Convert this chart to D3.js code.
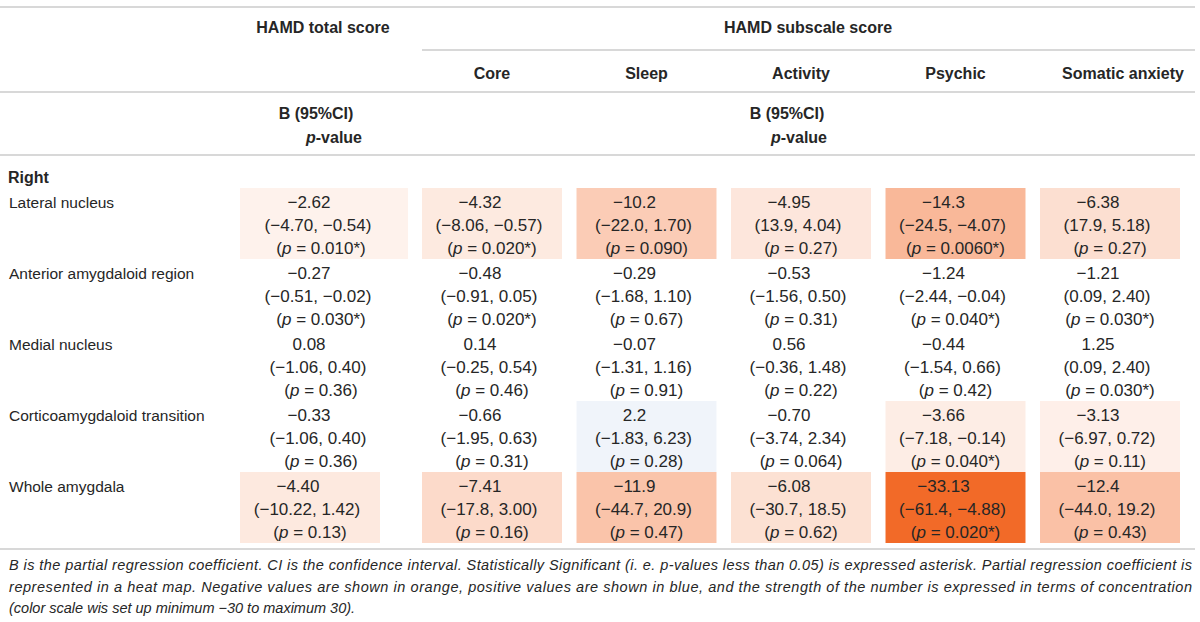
<!DOCTYPE html>
<html>
<head>
<meta charset="utf-8">
<script src="https://cdn.jsdelivr.net/npm/d3@7"></script>
<style>
  html, body { margin: 0; padding: 0; background: #fff; }
  svg { display: block; }
  text { font-family: "Liberation Sans", Arial, Helvetica, sans-serif; fill: #262626; }
</style>
</head>
<body>
<svg id="chart" width="1200" height="622"></svg>
<script>
// ---------- DATA ----------
const regions = ["Lateral nucleus", "Anterior amygdaloid region", "Medial nucleus",
                 "Corticoamygdaloid transition", "Whole amygdala"];
const totalColumn = "HAMD total score";
const subscaleColumns = ["Core", "Sleep", "Activity", "Psychic", "Somatic anxiety"];
const columns = [totalColumn].concat(subscaleColumns);

// partial regression coefficient B (rows = regions, cols = columns)
const bValues = [
  ["−2.62", "−4.32", "−10.2", "−4.95", "−14.3", "−6.38"],
  ["−0.27", "−0.48", "−0.29", "−0.53", "−1.24", "−1.21"],
  ["0.08", "0.14", "−0.07", "0.56", "−0.44", "1.25"],
  ["−0.33", "−0.66", "2.2", "−0.70", "−3.66", "−3.13"],
  ["−4.40", "−7.41", "−11.9", "−6.08", "−33.13", "−12.4"]
];
// 95% CI lower bound
const ciLower = [
  ["−4.70", "−8.06", "−22.0", "13.9", "−24.5", "17.9"],
  ["−0.51", "−0.91", "−1.68", "−1.56", "−2.44", "0.09"],
  ["−1.06", "−0.25", "−1.31", "−0.36", "−1.54", "0.09"],
  ["−1.06", "−1.95", "−1.83", "−3.74", "−7.18", "−6.97"],
  ["−10.22", "−17.8", "−44.7", "−30.7", "−61.4", "−44.0"]
];
// 95% CI upper bound
const ciUpper = [
  ["−0.54", "−0.57", "1.70", "4.04", "−4.07", "5.18"],
  ["−0.02", "0.05", "1.10", "0.50", "−0.04", "2.40"],
  ["0.40", "0.54", "1.16", "1.48", "0.66", "2.40"],
  ["0.40", "0.63", "6.23", "2.34", "−0.14", "0.72"],
  ["1.42", "3.00", "20.9", "18.5", "−4.88", "19.2"]
];
// p-values (* = significant)
const pValues = [
  ["0.010*", "0.020*", "0.090", "0.27", "0.0060*", "0.27"],
  ["0.030*", "0.020*", "0.67", "0.31", "0.040*", "0.030*"],
  ["0.36", "0.46", "0.91", "0.22", "0.42", "0.030*"],
  ["0.36", "0.31", "0.28", "0.064", "0.040*", "0.11"],
  ["0.13", "0.16", "0.47", "0.62", "0.020*", "0.43"]
];
const footnoteLines = [
  "B is the partial regression coefficient. CI is the confidence interval. Statistically Significant (i. e. p-values less than 0.05) is expressed asterisk. Partial regression coefficient is",
  "represented in a heat map. Negative values are shown in orange, positive values are shown in blue, and the strength of the number is expressed in terms of concentration",
  "(color scale wis set up minimum −30 to maximum 30)."
];
const colorMin = -30, colorMax = 30;

// ---------- LAYOUT ----------
const W = 1200;
const svg = d3.select("#chart");
const num = s => +s.replace("−", "-");

const yRow = d3.scaleBand().domain(regions).range([188, 543]).padding(0);
const xSub = d3.scaleBand().domain(subscaleColumns).range([422, 1180]).paddingInner(0.094).paddingOuter(0);

function cellBox(ri, ci) {
  if (ci === 0) return { x0: 240, x1: ri === 0 ? 408 : 380 };
  const x0 = xSub(subscaleColumns[ci - 1]);
  return { x0: x0, x1: x0 + xSub.bandwidth() };
}
function textCenter(ri, ci) {
  if (ci === 0) return ri === 4 ? 310 : 321;
  return xSub(subscaleColumns[ci - 1]) + xSub.bandwidth() / 2;
}

const color = d3.scaleLinear()
  .domain([colorMin, 0, colorMax])
  .range(["#f26a28", "#ffffff", "#2e6db4"])
  .clamp(true);

// rules
const ruleColor = "#cbcbcb";
function rule(x0, x1, y) {
  svg.append("line").attr("x1", x0).attr("x2", x1).attr("y1", y).attr("y2", y)
    .attr("stroke", ruleColor).attr("stroke-width", 1.6);
}
rule(0, 1195, 7);
rule(422, 1195, 50);
rule(0, 1195, 92);
rule(0, 1195, 155);
rule(0, 1195, 549);

// headers
const hdr = svg.append("g").attr("font-weight", "bold").attr("font-size", 16)
  .attr("text-anchor", "middle").attr("dominant-baseline", "central");
hdr.append("text").attr("x", 323).attr("y", 27).text(totalColumn);
hdr.append("text").attr("x", 808).attr("y", 27).text("HAMD subscale score");
subscaleColumns.forEach(c => {
  const cx = c === "Somatic anxiety" ? 1123 : xSub(c) + xSub.bandwidth() / 2;
  hdr.append("text").attr("x", cx).attr("y", 73).text(c);
});
[[316, 334], [787, 799]].forEach(([bx, px]) => {
  hdr.append("text").attr("x", bx).attr("y", 113).text("B (95%CI)");
  const t = hdr.append("text").attr("x", px).attr("y", 137);
  t.append("tspan").attr("font-style", "italic").text("p");
  t.append("tspan").text("-value");
});

// section label
svg.append("text").attr("x", 8).attr("y", 177).attr("dominant-baseline", "central")
  .attr("font-weight", "bold").attr("font-size", 16).text("Right");

// row labels
svg.append("g").selectAll("text").data(regions).join("text")
  .attr("x", 9).attr("y", d => yRow(d) + 14)
  .attr("dominant-baseline", "central").attr("font-size", 15.5)
  .text(d => d);

// cells
const cells = [];
regions.forEach((r, ri) => columns.forEach((c, ci) => {
  cells.push({ ri, ci, r, c, b: bValues[ri][ci], lo: ciLower[ri][ci], hi: ciUpper[ri][ci], p: pValues[ri][ci] });
}));

const cellG = svg.append("g").selectAll("g").data(cells).join("g");
cellG.filter(d => Math.abs(num(d.b)) >= 2).append("rect")
  .attr("x", d => cellBox(d.ri, d.ci).x0)
  .attr("width", d => cellBox(d.ri, d.ci).x1 - cellBox(d.ri, d.ci).x0)
  .attr("y", d => yRow(d.r))
  .attr("height", yRow.bandwidth())
  .attr("fill", d => color(num(d.b)));

const lineDy = [14, 37, 59.5];
const lineDx = [-12, -3, 0];
cellG.each(function(d) {
  const g = d3.select(this);
  const cx = textCenter(d.ri, d.ci);
  const y0 = yRow(d.r);
  const common = s => s.attr("text-anchor", "middle").attr("dominant-baseline", "central").attr("font-size", 17);
  g.append("text").call(common).attr("x", cx + lineDx[0]).attr("y", y0 + lineDy[0]).text(d.b);
  g.append("text").call(common).attr("x", cx + lineDx[1]).attr("y", y0 + lineDy[1]).text(`(${d.lo}, ${d.hi})`);
  const t = g.append("text").call(common).attr("x", cx + lineDx[2]).attr("y", y0 + lineDy[2]);
  t.append("tspan").text("(");
  t.append("tspan").attr("font-style", "italic").text("p");
  t.append("tspan").text(` = ${d.p})`);
});

// footnote
svg.append("g").selectAll("text").data(footnoteLines).join("text")
  .attr("x", 9).attr("y", (d, i) => 565 + i * 21.5)
  .attr("dominant-baseline", "central")
  .attr("font-style", "italic").attr("font-size", 14.5)
  .attr("fill", "#333")
  .each(function(d, i) {
    if (i < 2) d3.select(this).attr("textLength", 1183).attr("lengthAdjust", "spacing");
  })
  .text(d => d);
</script>
</body>
</html>
